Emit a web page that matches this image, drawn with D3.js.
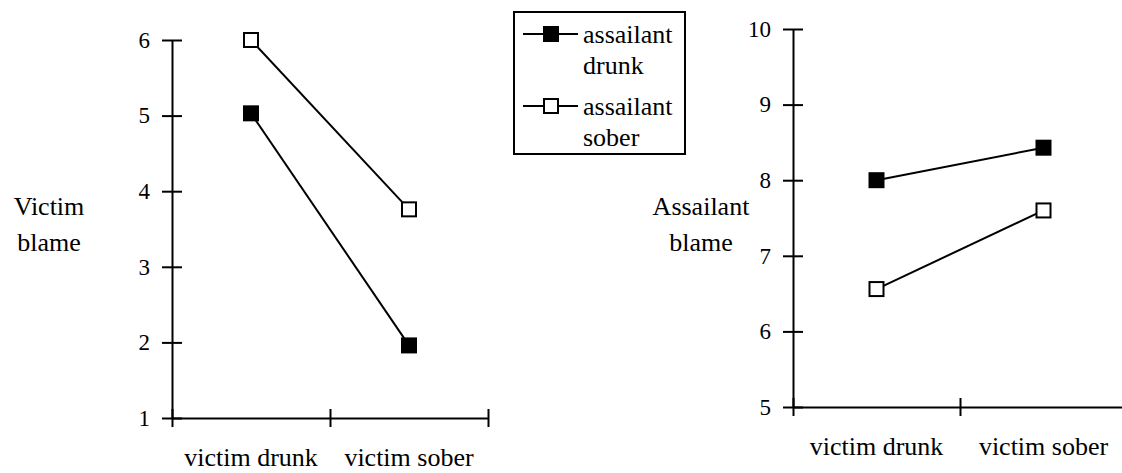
<!DOCTYPE html>
<html>
<head>
<meta charset="utf-8">
<script src="https://cdn.jsdelivr.net/npm/d3@7"></script>
<style>
  body { margin: 0; background: #fff; }
</style>
</head>
<body>
<div id="chart"></div>
<script>
// data
var categories = ["victim drunk", "victim sober"];
var victimBlameAssailantDrunk = [5.03, 1.96];
var victimBlameAssailantSober = [6.0, 3.76];
var assailantBlameAssailantDrunk = [8.0, 8.43];
var assailantBlameAssailantSober = [6.56, 7.6];
var leftTicks = [1, 2, 3, 4, 5, 6];
var rightTicks = [5, 6, 7, 8, 9, 10];
var seriesNames = [["assailant", "drunk"], ["assailant", "sober"]];

var FONT = "Liberation Serif, Tinos, Times New Roman, DejaVu Serif, serif"

var svg = d3.select("#chart")
    .append("svg")
    .attr("width", 1122)
    .attr("height", 473)
    .attr("font-family", FONT)

// one panel: y axis, x axis with ticks on band edges, two lines with square markers
function panel(opts) {
    var y = d3.scaleLinear().domain(opts.domain).range([opts.bottom, opts.top])
    var x = d3.scaleBand().domain(categories).range([opts.left, opts.right])
    var edges = d3.scaleLinear().domain([0, categories.length]).range([opts.left, opts.right])

    var g = svg.append("g")

    // y axis
    var ya = g.append("g")
        .attr("transform", "translate(" + opts.left + ",0)")
        .call(d3.axisLeft(y).tickValues(opts.ticks).tickFormat(d3.format("d"))
            .tickSize(10).tickSizeOuter(0).tickPadding(12))
    ya.selectAll(".tick line").attr("x1", 10)
    ya.selectAll(".tick text").attr("font-size", 23)

    // x axis line + edge ticks
    var xa = g.append("g")
        .attr("transform", "translate(0," + opts.bottom + ")")
        .call(d3.axisBottom(edges).tickValues(d3.range(categories.length + 1)).tickFormat("").tickSize(9).tickSizeOuter(0))
    xa.selectAll(".tick line").attr("y1", -9)

    // category labels
    var xl = g.append("g")
        .attr("transform", "translate(0," + opts.bottom + ")")
        .call(d3.axisBottom(x).tickSize(0).tickPadding(30))
    xl.select(".domain").remove()
    xl.selectAll(".tick text").attr("font-size", 26)

    g.selectAll("g").attr("font-family", FONT)
    g.selectAll("text").attr("font-family", FONT).attr("fill", "#000")
    g.selectAll("path.domain, .tick line").attr("stroke", "#000").attr("stroke-width", 2)

    // y title
    g.append("text")
        .attr("text-anchor", "middle")
        .attr("font-size", 26)
        .attr("font-family", FONT)
        .selectAll("tspan")
        .data(opts.title)
        .enter()
        .append("tspan")
        .attr("x", opts.titleX)
        .attr("y", function(d, i) { return 215 + i * 36 })
        .text(function(d) { return d })

    var line = d3.line()
        .x(function(d, i) { return x(categories[i]) + x.bandwidth() / 2 })
        .y(function(d) { return y(d) })

    opts.series.forEach(function(s, k) {
        g.append("path")
            .attr("d", line(s))
            .attr("fill", "none")
            .attr("stroke", "#000")
            .attr("stroke-width", 2)
        g.selectAll(null)
            .data(s)
            .enter()
            .append("rect")
            .attr("x", function(d, i) { return x(categories[i]) + x.bandwidth() / 2 - 7 })
            .attr("y", function(d) { return y(d) - 7 })
            .attr("width", 14)
            .attr("height", 14)
            .attr("fill", k === 0 ? "#000" : "#fff")
            .attr("stroke", "#000")
            .attr("stroke-width", 2)
    })
}

panel({
    domain: [1, 6], ticks: leftTicks, top: 40, bottom: 418, left: 172, right: 488,
    title: ["Victim", "blame"], titleX: 49,
    series: [victimBlameAssailantDrunk, victimBlameAssailantSober]
})

panel({
    domain: [5, 10], ticks: rightTicks, top: 29, bottom: 407, left: 793, right: 1127,
    title: ["Assailant", "blame"], titleX: 701,
    series: [assailantBlameAssailantDrunk, assailantBlameAssailantSober]
})

// legend
var legend = svg.append("g")
legend.append("rect")
    .attr("x", 514).attr("y", 12)
    .attr("width", 171).attr("height", 142)
    .attr("fill", "#fff").attr("stroke", "#000").attr("stroke-width", 2)

var items = legend.selectAll(".item")
    .data(seriesNames)
    .enter()
    .append("g")
    .attr("class", "item")
    .attr("transform", function(d, i) { return "translate(0," + (i * 72) + ")" })

items.append("line")
    .attr("x1", 523).attr("x2", 578)
    .attr("y1", 34).attr("y2", 34)
    .attr("stroke", "#000").attr("stroke-width", 2)
items.append("rect")
    .attr("x", 544).attr("y", 27)
    .attr("width", 14).attr("height", 14)
    .attr("fill", function(d, i) { return i === 0 ? "#000" : "#fff" })
    .attr("stroke", "#000").attr("stroke-width", 2)
items.append("text")
    .attr("font-size", 26)
    .attr("font-family", FONT)
    .selectAll("tspan")
    .data(function(d) { return d })
    .enter()
    .append("tspan")
    .attr("x", 583)
    .attr("y", function(d, i) { return 43 + i * 31 })
    .text(function(d) { return d })
</script>
</body>
</html>
